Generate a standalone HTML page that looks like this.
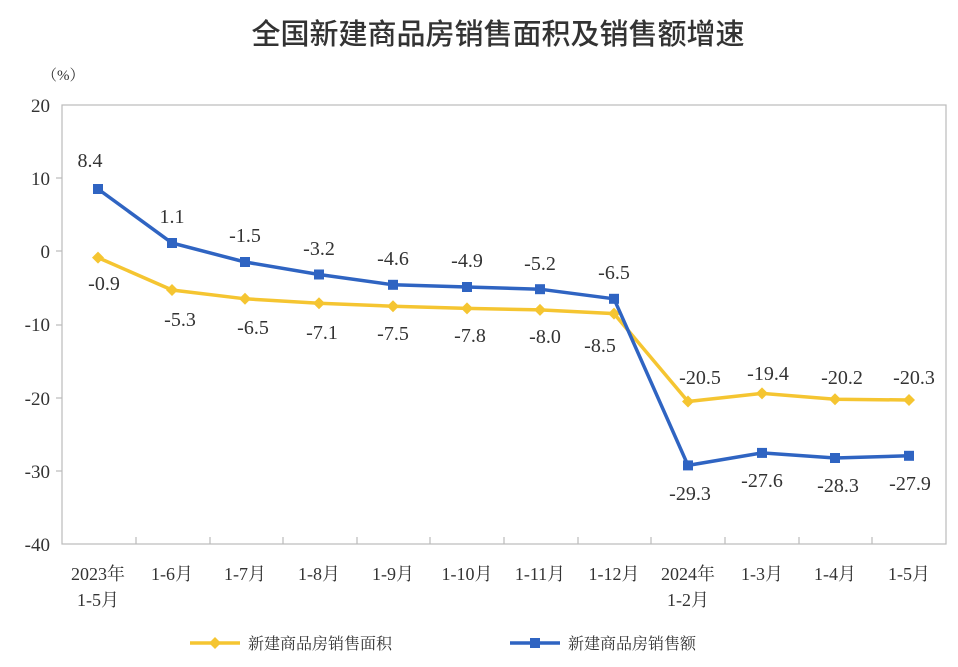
<!DOCTYPE html>
<html><head><meta charset="utf-8"><style>
body{margin:0;background:#fff;}
svg text{font-family:"Liberation Serif","Noto Serif CJK SC",serif;fill:#333;}
</style></head><body>
<svg width="958" height="662" xmlns="http://www.w3.org/2000/svg">
<text x="498" y="44" text-anchor="middle" font-size="29" style="font-family:'Liberation Sans','Noto Sans CJK SC',sans-serif;font-weight:500" fill="#222">全国新建商品房销售面积及销售额增速</text>
<text x="42" y="80" font-size="15">（%）</text>
<rect x="62" y="105" width="884" height="439" fill="none" stroke="#bbb" stroke-width="1.2"/>
<g font-size="19" text-anchor="end">
<text x="50" y="112">20</text><text x="50" y="185">10</text><text x="50" y="258">0</text>
<text x="50" y="331">-10</text><text x="50" y="405">-20</text><text x="50" y="478">-30</text><text x="50" y="551">-40</text>
</g>
<g stroke="#bbb" stroke-width="1.2">
<line x1="56" y1="178" x2="62" y2="178"/><line x1="56" y1="251" x2="62" y2="251"/><line x1="56" y1="325" x2="62" y2="325"/><line x1="56" y1="398" x2="62" y2="398"/><line x1="56" y1="471" x2="62" y2="471"/>
<line x1="136" y1="544" x2="136" y2="537"/><line x1="210" y1="544" x2="210" y2="537"/><line x1="283" y1="544" x2="283" y2="537"/><line x1="357" y1="544" x2="357" y2="537"/><line x1="430" y1="544" x2="430" y2="537"/><line x1="504" y1="544" x2="504" y2="537"/><line x1="578" y1="544" x2="578" y2="537"/><line x1="651" y1="544" x2="651" y2="537"/><line x1="725" y1="544" x2="725" y2="537"/><line x1="799" y1="544" x2="799" y2="537"/><line x1="872" y1="544" x2="872" y2="537"/>
</g>
<g font-size="18" text-anchor="middle">
<text x="98" y="580">2023年</text><text x="98" y="606">1-5月</text>
<text x="172" y="580">1-6月</text><text x="245" y="580">1-7月</text><text x="319" y="580">1-8月</text><text x="393" y="580">1-9月</text>
<text x="467" y="580">1-10月</text><text x="540" y="580">1-11月</text><text x="614" y="580">1-12月</text>
<text x="688" y="580">2024年</text><text x="688" y="606">1-2月</text>
<text x="762" y="580">1-3月</text><text x="835" y="580">1-4月</text><text x="909" y="580">1-5月</text>
</g>
<polyline fill="none" stroke="#f5c531" stroke-width="3.5" points="98,257.6 172,290 245,298.8 319,303.3 393,306.2 467,308.4 540,309.9 614,313.6 688,401.5 762,393.4 835,399.3 909,400"/>
<g fill="#f5c531">
<path d="M98,251.6l6,6l-6,6l-6,-6z"/><path d="M172,284l6,6l-6,6l-6,-6z"/><path d="M245,292.8l6,6l-6,6l-6,-6z"/><path d="M319,297.3l6,6l-6,6l-6,-6z"/><path d="M393,300.2l6,6l-6,6l-6,-6z"/><path d="M467,302.4l6,6l-6,6l-6,-6z"/><path d="M540,303.9l6,6l-6,6l-6,-6z"/><path d="M614,307.6l6,6l-6,6l-6,-6z"/><path d="M688,395.5l6,6l-6,6l-6,-6z"/><path d="M762,387.4l6,6l-6,6l-6,-6z"/><path d="M835,393.3l6,6l-6,6l-6,-6z"/><path d="M909,394l6,6l-6,6l-6,-6z"/>
</g>
<polyline fill="none" stroke="#2f64c2" stroke-width="3.5" points="98,189 172,243 245,262 319,274.5 393,284.8 467,287 540,289.2 614,298.8 688,465.4 762,452.9 835,458 909,455.8"/>
<g fill="#2f64c2">
<rect x="93" y="184" width="10" height="10"/><rect x="167" y="238" width="10" height="10"/><rect x="240" y="257" width="10" height="10"/><rect x="314" y="269.5" width="10" height="10"/><rect x="388" y="279.8" width="10" height="10"/><rect x="462" y="282" width="10" height="10"/><rect x="535" y="284.2" width="10" height="10"/><rect x="609" y="293.8" width="10" height="10"/><rect x="683" y="460.4" width="10" height="10"/><rect x="757" y="447.9" width="10" height="10"/><rect x="830" y="453" width="10" height="10"/><rect x="904" y="450.8" width="10" height="10"/>
</g>
<g font-size="20" text-anchor="middle">
<text x="90" y="167">8.4</text><text x="172" y="223">1.1</text><text x="245" y="242">-1.5</text><text x="319" y="255">-3.2</text><text x="393" y="265">-4.6</text><text x="467" y="267">-4.9</text><text x="540" y="270">-5.2</text><text x="614" y="279">-6.5</text>
<text x="104" y="290">-0.9</text><text x="180" y="326">-5.3</text><text x="253" y="334">-6.5</text><text x="322" y="339">-7.1</text><text x="393" y="340">-7.5</text><text x="470" y="342">-7.8</text><text x="545" y="343">-8.0</text><text x="600" y="352">-8.5</text>
<text x="700" y="384">-20.5</text><text x="768" y="380">-19.4</text><text x="842" y="384">-20.2</text><text x="914" y="384">-20.3</text>
<text x="690" y="500">-29.3</text><text x="762" y="487">-27.6</text><text x="838" y="492">-28.3</text><text x="910" y="490">-27.9</text>
</g>
<line x1="190" y1="643" x2="240" y2="643" stroke="#f5c531" stroke-width="3.5"/>
<path d="M215,637l6,6l-6,6l-6,-6z" fill="#f5c531"/>
<text x="248" y="649" font-size="16">新建商品房销售面积</text>
<line x1="510" y1="643" x2="560" y2="643" stroke="#2f64c2" stroke-width="3.5"/>
<rect x="530" y="638" width="10" height="10" fill="#2f64c2"/>
<text x="568" y="649" font-size="16">新建商品房销售额</text>
</svg>
</body></html>
